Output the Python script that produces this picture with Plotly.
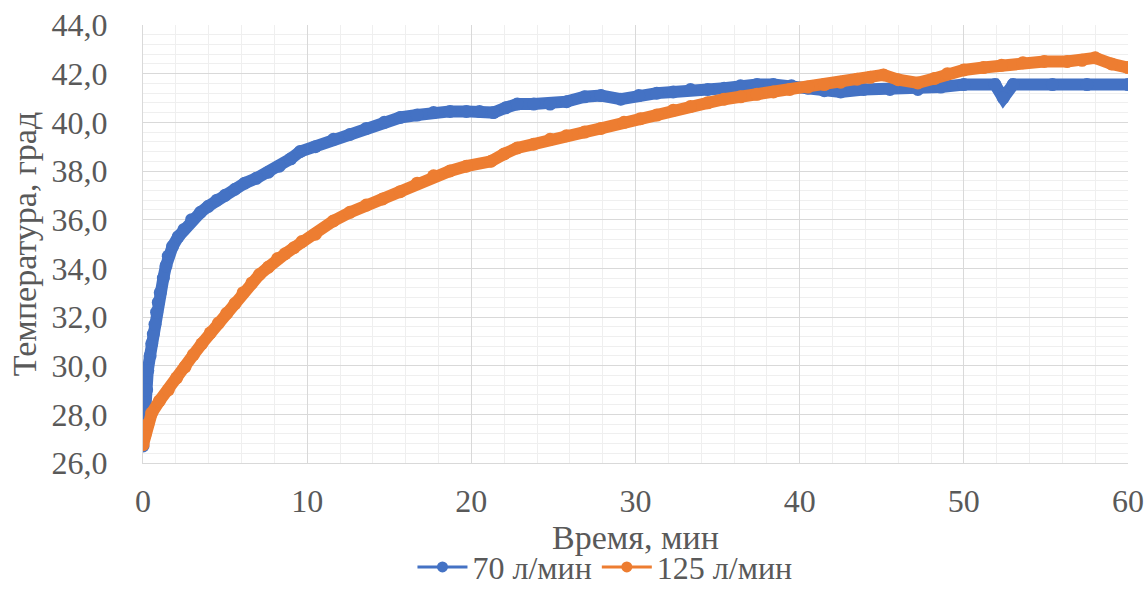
import plotly.graph_objects as go

# 70 л/мин
t70 = [0, 0.08, 0.22, 0.29, 0.43, 0.53, 0.63, 0.73, 0.83, 0.93, 1.05, 1.24, 1.4, 1.54, 1.8,
       2.15, 2.5, 2.96, 3.5, 3.98, 4.5, 5.0, 5.6, 6.2, 6.9, 7.64, 8.3, 9.0, 9.57, 10.5,
       11.6, 12.6, 13.6, 14.7, 15.67, 16.7, 17.7, 18.7, 19.7, 20.5, 21.35, 22.1, 22.8, 23.8,
       24.8, 25.8, 26.9, 27.9, 29.1, 30.2, 31.3, 32.3, 33.35, 34.4, 35.4, 36.4, 37.4, 38.4,
       39.5, 40.5, 41.5, 42.5, 43.9, 45.5, 47.2, 48.6, 50.0, 51.9, 52.4, 53.0, 55.4, 57.5, 60.0]
T70 = [26.7, 28.1, 29.0, 29.8, 30.4, 30.9, 31.3, 31.7, 32.2, 32.6, 33.0, 33.6, 34.1, 34.5, 34.9,
       35.3, 35.6, 36.0, 36.3, 36.55, 36.8, 37.0, 37.25, 37.5, 37.7, 37.95, 38.2, 38.5, 38.8, 39.0,
       39.3, 39.5, 39.75, 40.0, 40.2, 40.3, 40.4, 40.45, 40.45, 40.45, 40.4, 40.6, 40.75, 40.75,
       40.75, 40.85, 41.05, 41.1, 40.95, 41.1, 41.2, 41.25, 41.35, 41.35, 41.4, 41.5, 41.55, 41.55,
       41.5, 41.4, 41.3, 41.25, 41.35, 41.35, 41.35, 41.45, 41.55, 41.55, 41.0, 41.55, 41.55, 41.55, 41.55]

# 125 л/мин
t125 = [0, 0.12, 0.3, 0.53, 1.0, 1.54, 2.05, 2.56, 3.07, 3.58, 4.1, 4.6, 5.1, 5.6, 6.1, 6.63,
        7.1, 7.64, 8.2, 8.66, 9.2, 9.68, 10.5, 11.6, 12.6, 13.6, 14.6, 15.67, 16.7, 17.7, 18.7,
        19.7, 21.2, 22.0, 22.8, 23.8, 24.8, 25.8, 26.9, 27.9, 29.3, 30.3, 31.3, 32.3, 33.35,
        34.4, 35.4, 36.4, 37.4, 38.4, 39.4, 40.5, 41.5, 42.5, 43.5, 44.3, 45.1, 46.0, 47.2,
        48.2, 49.0, 50.0, 51.2, 52.3, 53.6, 54.9, 56.3, 57.2, 58.0, 59.0, 60.0]
T125 = [26.75, 27.15, 27.6, 28.05, 28.55, 29.0, 29.5, 29.95, 30.45, 30.9, 31.35, 31.75, 32.15, 32.55,
        33.0, 33.4, 33.75, 34.05, 34.4, 34.6, 34.85, 35.1, 35.4, 35.95, 36.3, 36.6, 36.85, 37.15,
        37.5, 37.8, 38.0, 38.2, 38.4, 38.7, 38.95, 39.1, 39.3, 39.45, 39.6, 39.75, 40.0, 40.15,
        40.3, 40.5, 40.65, 40.8, 40.95, 41.05, 41.15, 41.25, 41.35, 41.45, 41.55, 41.65, 41.77,
        41.85, 41.95, 41.75, 41.62, 41.8, 42.0, 42.15, 42.25, 42.35, 42.45, 42.5, 42.5, 42.55,
        42.65, 42.4, 42.25]

names = ["70 л/мин", "125 л/мин"]
colors = ["#4472C4", "#ED7D31"]
x_title = "Время, мин"
y_title = "Температура, град"

FONT = "Liberation Serif"
GREY = "#595959"
FS_TICK = 32
FS_TEXT = 34
FS_LEG = 32

fig = go.Figure()
for t, T, c, n in [(t70, T70, colors[0], names[0]), (t125, T125, colors[1], names[1])]:
    fig.add_trace(go.Scatter(x=t, y=T, mode="lines+markers", name=n, showlegend=False,
                             line=dict(color=c, width=12), marker=dict(color=c, size=13)))
for c, n in zip(colors, names):
    fig.add_trace(go.Scatter(x=[None], y=[None], mode="lines+markers", name=n,
                             line=dict(color=c, width=3), marker=dict(color=c, size=11)))

fig.update_layout(
    width=1146, height=591,
    margin=dict(l=143, r=18, t=25, b=128, autoexpand=False),
    paper_bgcolor="white", plot_bgcolor="white",
    separators=", ",
    font=dict(family=FONT, size=FS_TEXT, color=GREY),
    legend=dict(orientation="h", x=0.469, xanchor="center", y=-0.175, yanchor="top",
                font=dict(family=FONT, size=FS_LEG, color=GREY), itemwidth=50,
                tracegroupgap=0, bgcolor="rgba(0,0,0,0)"),
)
fig.update_xaxes(
    range=[0, 60], dtick=10, tick0=0, showgrid=True, gridcolor="#D9D9D9", gridwidth=1,
    minor=dict(dtick=2, showgrid=True, gridcolor="#EFEFEF", gridwidth=1),
    showline=True, linecolor="#D9D9D9", linewidth=1, zeroline=False,
    ticks="", ticklabelstandoff=10, automargin=False,
    tickfont=dict(family=FONT, size=FS_TICK, color=GREY),
    title=dict(text=x_title, standoff=5, font=dict(family=FONT, size=FS_TEXT, color=GREY)),
)
fig.update_yaxes(
    range=[26, 44], dtick=2, tick0=26, tickformat=".1f", showgrid=True, gridcolor="#D9D9D9",
    gridwidth=1, minor=dict(dtick=0.4, showgrid=True, gridcolor="#EFEFEF", gridwidth=1),
    showline=True, linecolor="#D9D9D9", linewidth=1, zeroline=False,
    ticks="", ticklabelstandoff=28, automargin=False,
    tickfont=dict(family=FONT, size=FS_TICK, color=GREY),
    title=dict(text=y_title, standoff=4, font=dict(family=FONT, size=FS_TEXT, color=GREY)),
)

fig.write_html("out.html")
